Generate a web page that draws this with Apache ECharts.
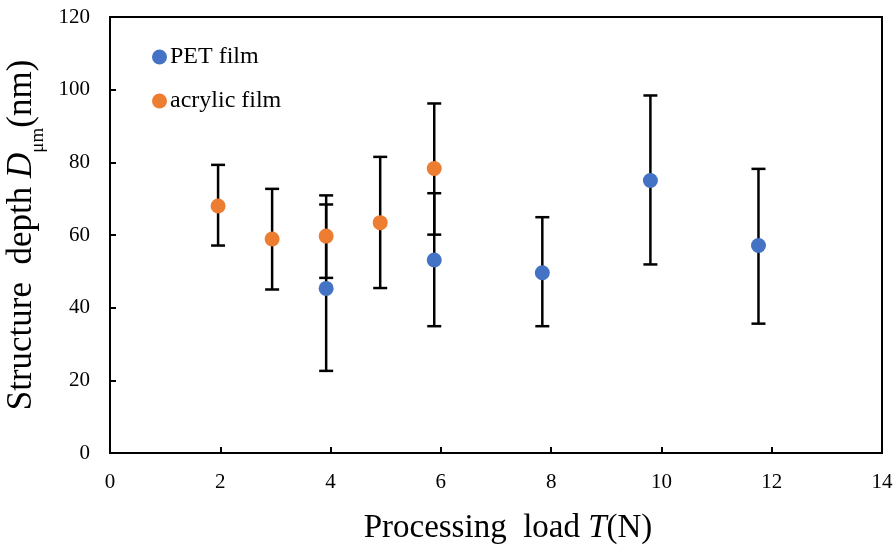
<!DOCTYPE html>
<html><head><meta charset="utf-8">
<script src="https://cdn.jsdelivr.net/npm/echarts@6/dist/echarts.min.js"></script>
<style>html,body{margin:0;padding:0;background:#fff}#c{width:896px;height:547px}</style>
</head><body><div id="c"></div>
<script>
const petX = [3.92, 5.88, 7.84, 9.80, 11.76];
const petY = [45.3, 53.1, 49.6, 75.0, 57.1];
const petLow = [22.6, 34.9, 34.9, 51.9, 35.6];
const petHigh = [68.4, 71.5, 64.9, 98.4, 78.2];
const acrX = [1.96, 2.94, 3.92, 4.90, 5.88];
const acrY = [68.0, 58.9, 59.7, 63.4, 78.3];
const acrLow = [57.1, 45.0, 48.2, 45.4, 60.1];
const acrHigh = [79.3, 72.7, 70.9, 81.5, 96.2];
const xTicks = [0, 2, 4, 6, 8, 10, 12, 14];
const yTicks = [0, 20, 40, 60, 80, 100, 120];

const font = 'Liberation Serif';
function errData(xs, lo, hi) { return xs.map((x, i) => [x, lo[i], hi[i]]); }
function renderErr(params, api) {
  const x = api.value(0);
  const lo = api.coord([x, api.value(1)]);
  const hi = api.coord([x, api.value(2)]);
  const w = 7;
  const st = { stroke: '#000', lineWidth: 2.5 };
  return { type: 'group', children: [
    { type: 'line', shape: { x1: lo[0], y1: lo[1], x2: hi[0], y2: hi[1] }, style: st },
    { type: 'line', shape: { x1: lo[0] - w, y1: lo[1], x2: lo[0] + w, y2: lo[1] }, style: st },
    { type: 'line', shape: { x1: hi[0] - w, y1: hi[1], x2: hi[0] + w, y2: hi[1] }, style: st }
  ]};
}
const chart = echarts.init(document.getElementById('c'), null, { renderer: 'canvas' });
chart.setOption({
  animation: false,
  textStyle: { fontFamily: font },
  grid: { left: 110, right: 14, top: 17, bottom: 94, show: true, borderColor: '#000', borderWidth: 2, containLabel: false, outerBoundsMode: 'none' },
  legend: {
    orient: 'vertical', left: 147, top: 40, itemGap: 20,
    itemWidth: 15, itemHeight: 15,
    textStyle: { fontFamily: font, fontSize: 24, color: '#000', padding: [0, 0, 0, -2] },
    data: ['PET film', 'acrylic film']
  },
  xAxis: {
    type: 'value', min: xTicks[0], max: xTicks[xTicks.length - 1], interval: 2,
    name: '{n|Processing  load }{i|T}{n|(N)}', nameLocation: 'middle', nameGap: 59,
    nameTextStyle: { padding: [0, 0, 0, 24], rich: { n: { fontFamily: font, fontSize: 33, color: '#000' }, i: { fontFamily: font, fontSize: 33, fontStyle: 'italic', color: '#000' } } },
    axisLine: { lineStyle: { color: '#000', width: 2 } },
    axisTick: { inside: true, length: 6, lineStyle: { color: '#000', width: 2 } },
    axisLabel: { fontFamily: font, fontSize: 21, color: '#000', margin: 19 },
    splitLine: { show: false }
  },
  yAxis: {
    type: 'value', min: yTicks[0], max: yTicks[yTicks.length - 1], interval: 20,
    name: '{n|Structure  depth }{i|D}{s|μm}{n|(nm)}', nameLocation: 'middle', nameGap: 58, nameRotate: 90,
    nameTextStyle: { rich: {
      n: { fontFamily: font, fontSize: 35, color: '#000', lineHeight: 40, verticalAlign: 'middle' },
      i: { fontFamily: font, fontSize: 35, fontStyle: 'italic', color: '#000', lineHeight: 40, verticalAlign: 'middle' },
      s: { fontFamily: font, fontSize: 19, color: '#000', lineHeight: 40, verticalAlign: 'bottom', padding: [0, 0, -6, 0] }
    } },
    axisLine: { lineStyle: { color: '#000', width: 2 } },
    axisTick: { inside: true, length: 6, lineStyle: { color: '#000', width: 2 } },
    axisLabel: { fontFamily: font, fontSize: 21, color: '#000', margin: 20 },
    splitLine: { show: false }
  },
  series: [
    { type: 'custom', name: 'errPET', data: errData(petX, petLow, petHigh), renderItem: renderErr, z: 2, encode: { x: 0, y: [1, 2] } },
    { type: 'custom', name: 'errAcr', data: errData(acrX, acrLow, acrHigh), renderItem: renderErr, z: 2, encode: { x: 0, y: [1, 2] } },
    { type: 'scatter', name: 'PET film', data: petX.map((x, i) => [x, petY[i]]), symbol: 'circle', symbolSize: 15, itemStyle: { color: '#4472C4', opacity: 1 }, z: 5 },
    { type: 'scatter', name: 'acrylic film', data: acrX.map((x, i) => [x, acrY[i]]), symbol: 'circle', symbolSize: 15, itemStyle: { color: '#ED7D31', opacity: 1 }, z: 5 }
  ]
});
</script></body></html>
